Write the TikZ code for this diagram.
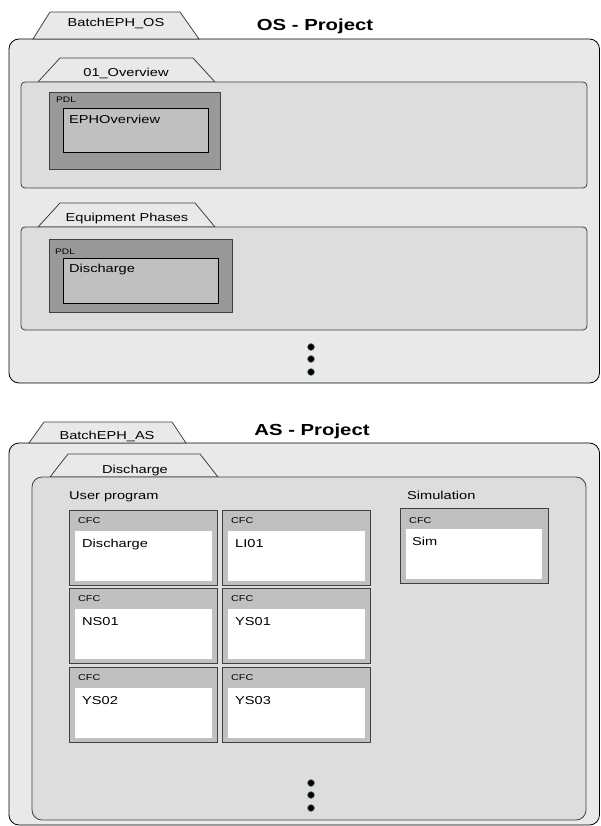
\documentclass[tikz,border=0pt]{standalone}
\usepackage{fontspec}
\setmainfont[FakeStretch=1.27]{Liberation Sans}
\usepackage{tikz}

\definecolor{bgouter}{HTML}{E9E9E9}
\definecolor{bgpanel}{HTML}{DDDDDD}
\definecolor{pdldark}{HTML}{999999}
\definecolor{pdllight}{HTML}{C0C0C0}
\definecolor{cfchead}{HTML}{C0C0C0}
\definecolor{edgegray}{HTML}{404040}
\definecolor{dotrim}{HTML}{6E8C94}

\begin{document}
\begin{tikzpicture}[x=1pt, y=-1pt,
  outerbox/.style={draw=black, fill=bgouter, line width=0.8pt, rounded corners=10pt},
  panel/.style={draw=edgegray, fill=bgpanel, line width=0.8pt, rounded corners=4pt},
  tabshape/.style={draw=edgegray, fill=bgouter, line width=0.8pt},
  pdlbox/.style={draw=edgegray, fill=pdldark, line width=0.8pt},
  pdlinner/.style={draw=black, fill=pdllight, line width=0.8pt},
  cfcbox/.style={draw=edgegray, fill=cfchead, line width=1pt},
  txt/.style={font=\fontsize{11.5}{13}\selectfont, inner sep=0pt},
  small/.style={font=\fontsize{8.5}{10}\selectfont, inner sep=0pt},
  tiny/.style={font=\fontsize{8}{10}\selectfont, inner sep=0pt},
  head/.style={font=\fontsize{16}{19}\selectfont\bfseries, inner sep=0pt},
  dot/.style={circle, fill=black, draw=dotrim, line width=0.6pt, minimum size=7pt, inner sep=0pt}]
  \useasboundingbox (0,0) rectangle (600,826);

  % OS project
  \draw[outerbox] (9,39) rectangle (599.5,383);
  \filldraw[tabshape] (33,39) -- (50,12) -- (180,12) -- (199,39) -- cycle;
  \node[txt, anchor=base] (ostab) at (116,27) {BatchEPH\_OS};
  \node[head, anchor=base] (ostitle) at (315,31) {OS - Project};

  \filldraw[tabshape] (38,82) -- (60,58) -- (193,58) -- (215,82) -- cycle;
  \draw[panel] (21,82) rectangle (587,188);
  \node[txt, anchor=base] (ovtab) at (126,77) {01\_Overview};
  \draw[pdlbox] (49,92) rectangle (220,169);
  \draw[pdlinner] (63,108) rectangle (208,152);
  \node[tiny, anchor=base west] (pdl1) at (56,103) {PDL};
  \node[txt, anchor=base west] (ephov) at (69,124) {EPHOverview};

  \filldraw[tabshape] (38,227) -- (60,203) -- (195,203) -- (215,227) -- cycle;
  \draw[panel] (21,227) rectangle (587,330);
  \node[txt, anchor=base] (eptab) at (127,222) {Equipment Phases};
  \draw[pdlbox] (49,239) rectangle (232,312);
  \draw[pdlinner] (63,258) rectangle (218,303);
  \node[tiny, anchor=base west] (pdl2) at (55,254) {PDL};
  \node[txt, anchor=base west] (epdis) at (69,272) {Discharge};

  \foreach \y [count=\i] in {347,359,372}
    \node[dot] (osdot\i) at (311,\y) {};

  % AS project
  \draw[outerbox] (9,443) rectangle (599.5,825);
  \filldraw[tabshape] (29,443) -- (44,422) -- (172,422) -- (186,443) -- cycle;
  \node[txt, anchor=base] (astab) at (107,439) {BatchEPH\_AS};
  \node[head, anchor=base] (astitle) at (312,435) {AS - Project};

  \filldraw[tabshape] (50,477) -- (68,454) -- (200,454) -- (218,477) -- cycle;
  \draw[panel, rounded corners=10pt] (32,477) rectangle (586,820);
  \node[txt, anchor=base] (distab) at (135,473) {Discharge};
  \node[txt, anchor=base west] (userprog) at (69,499) {User program};
  \node[txt, anchor=base west] (simul) at (407,499) {Simulation};

  \foreach \name/\cx/\ty in {Discharge/69/510, LI01/222/510, NS01/69/588,
                             YS01/222/588, YS02/69/667, YS03/222/667} {
    \draw[cfcbox] (\cx,\ty) rectangle ++(148,75);
    \fill[white] (\cx+6,\ty+21) rectangle ++(137,50);
    \node[small, anchor=base west] (cfc-\name) at (\cx+9,\ty+13) {CFC};
    \node[txt, anchor=base west] (name-\name) at (\cx+13,\ty+37) {\name};
  }

  \draw[cfcbox] (400,508) rectangle (548,583);
  \fill[white] (406,529) rectangle (542,579);
  \node[small, anchor=base west] (cfc-Sim) at (409,523) {CFC};
  \node[txt, anchor=base west] (name-Sim) at (412,545) {Sim};

  \foreach \y [count=\i] in {783,795,808}
    \node[dot] (asdot\i) at (311,\y) {};
\end{tikzpicture}
\end{document}
